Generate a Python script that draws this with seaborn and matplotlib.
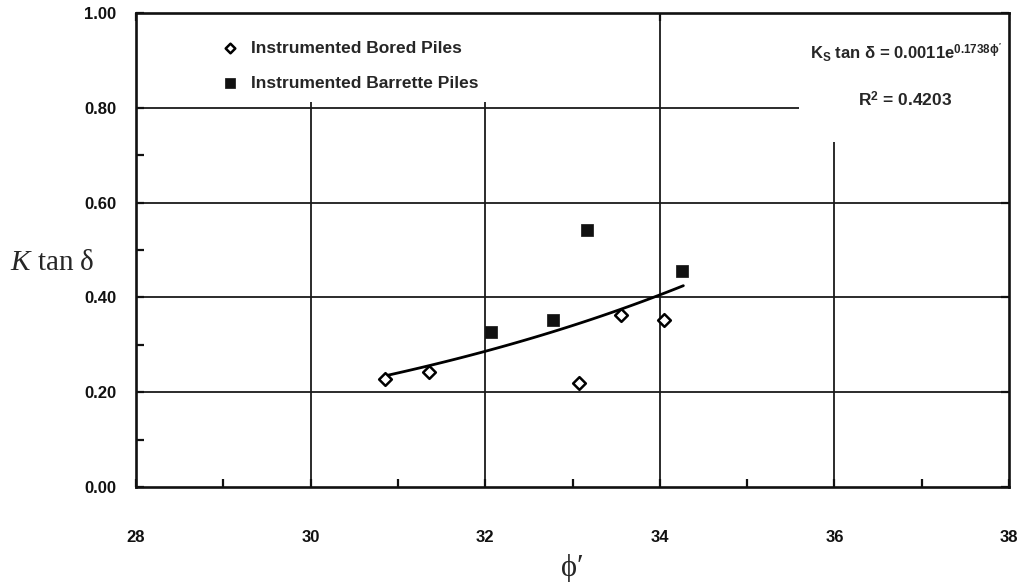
import numpy as np
import pandas as pd
import matplotlib
matplotlib.use("Agg")
import matplotlib.pyplot as plt
import seaborn as sns
from matplotlib.patches import Rectangle
from matplotlib.ticker import MultipleLocator, FormatStrFormatter

# ---- data ----
bored_phi = [30.85, 31.36, 33.08, 33.56, 34.05]
bored_k = [0.227, 0.242, 0.219, 0.362, 0.352]
barrette_phi = [32.07, 32.78, 33.17, 34.26]
barrette_k = [0.328, 0.352, 0.542, 0.456]
series_labels = ["Instrumented Bored Piles", "Instrumented Barrette Piles"]
fit_a = 0.0011          # from the printed trend equation
fit_b = 0.1738
fit_range = [30.85, 34.27]
x_ticks = [28, 30, 32, 34, 36, 38]
y_ticks = [0.0, 0.2, 0.4, 0.6, 0.8, 1.0]
r_squared = "0.4203"

sns.set_style("white")
plt.rcParams["font.family"] = ["Liberation Sans", "DejaVu Sans"]
plt.rcParams["mathtext.fontset"] = "custom"
plt.rcParams["mathtext.it"] = "Liberation Serif:italic"
plt.rcParams["mathtext.rm"] = "Liberation Sans:bold"
plt.rcParams["mathtext.bf"] = "Liberation Sans:bold"

df_bored = pd.DataFrame({"phi": bored_phi, "k": bored_k})
df_bar = pd.DataFrame({"phi": barrette_phi, "k": barrette_k})
fit_x = np.linspace(fit_range[0], fit_range[1], 60)
df_fit = pd.DataFrame({"phi": fit_x, "k": fit_a * np.exp(fit_b * fit_x)})

fig = plt.figure(figsize=(10.33, 5.82), dpi=100, facecolor="white")
ax = fig.add_axes([136 / 1033, 1 - 487 / 582, 873 / 1033, 474 / 582])
ax.set_facecolor("white")

ax.set_xlim(28, 38)
ax.set_ylim(0, 1.0)
ax.set_xticks(x_ticks)
ax.set_yticks(y_ticks)
ax.xaxis.set_minor_locator(MultipleLocator(1))
ax.yaxis.set_minor_locator(MultipleLocator(0.1))
ax.yaxis.set_major_formatter(FormatStrFormatter("%.2f"))

# grid (interior major lines only)
for xv in x_ticks[1:-1]:
    ax.axvline(xv, color="#1a1a1a", lw=1.3, zorder=0.5)
for yv in y_ticks[1:-1]:
    ax.axhline(yv, color="#1a1a1a", lw=1.3, zorder=0.5)

# white areas behind legend and equation (as in the reference)
ax.add_patch(Rectangle((0.0, 0.812), 0.45, 0.19, transform=ax.transAxes,
                       facecolor="white", edgecolor="none", zorder=1))
ax.add_patch(Rectangle((0.760, 0.728), 0.24, 0.28, transform=ax.transAxes,
                       facecolor="white", edgecolor="none", zorder=1))

sns.lineplot(data=df_fit, x="phi", y="k", ax=ax, color="black", lw=2.0,
             zorder=2, legend=False)
sns.scatterplot(data=df_bored, x="phi", y="k", ax=ax, marker="D", s=42,
                facecolor="white", edgecolor="black", linewidth=1.8,
                zorder=3, label=series_labels[0])
sns.scatterplot(data=df_bar, x="phi", y="k", ax=ax, marker="s", s=80,
                color="#111111", edgecolor="#111111", linewidth=0.5,
                zorder=3, label=series_labels[1])

for sp in ax.spines.values():
    sp.set_linewidth(1.9)
    sp.set_color("#111111")
    sp.set_zorder(4)

ax.tick_params(which="major", direction="in", length=6, width=1.6,
               bottom=True, left=True, top=True, right=True, colors="#111111")
ax.tick_params(which="minor", direction="in", length=6, width=1.6,
               bottom=True, left=True, top=False, right=False, colors="#111111")
ax.tick_params(axis="y", which="major", pad=14, labelsize=12)
ax.tick_params(axis="x", which="major", pad=31, labelsize=12)
for lab in ax.get_xticklabels() + ax.get_yticklabels():
    lab.set_fontweight("bold")

ax.set_xlabel("\u03d5\u2032", fontsize=22,
              fontfamily=["Liberation Serif", "DejaVu Serif"])
ax.xaxis.set_label_coords(0.5, -0.172)
ax.xaxis.label.set_va("center")
ax.set_ylabel("$K$ tan \u03b4", fontsize=21, rotation=0,
              fontfamily=["Liberation Serif", "DejaVu Serif"])
ax.yaxis.set_label_coords(-0.096, 0.473)
ax.yaxis.label.set_va("center")
ax.yaxis.label.set_ha("center")

leg = ax.legend(loc="upper left", bbox_to_anchor=(0.103, 0.942),
                frameon=False, handlelength=0.5,
                handletextpad=0.95, labelspacing=1.15, borderpad=0,
                borderaxespad=0, prop={"weight": "bold", "size": 12.5})
leg.set_zorder(5)
hs = leg.legend_handles
hs[0].set_sizes([24])
hs[1].set_sizes([48])

ax.text(0.882, 0.916, "K$_{\\mathrm{S}}$ tan \u03b4 = 0.0011e$^{\\mathrm{0.1738\u03d5'}}$",
        transform=ax.transAxes, ha="center", va="center", fontsize=12,
        fontweight="bold", zorder=5)
ax.text(0.881, 0.816, "R$^{\\mathrm{2}}$ = " + r_squared,
        transform=ax.transAxes, ha="center", va="center", fontsize=12.5,
        fontweight="bold", zorder=5)

fig.savefig("out.png", dpi=100, facecolor="white")
